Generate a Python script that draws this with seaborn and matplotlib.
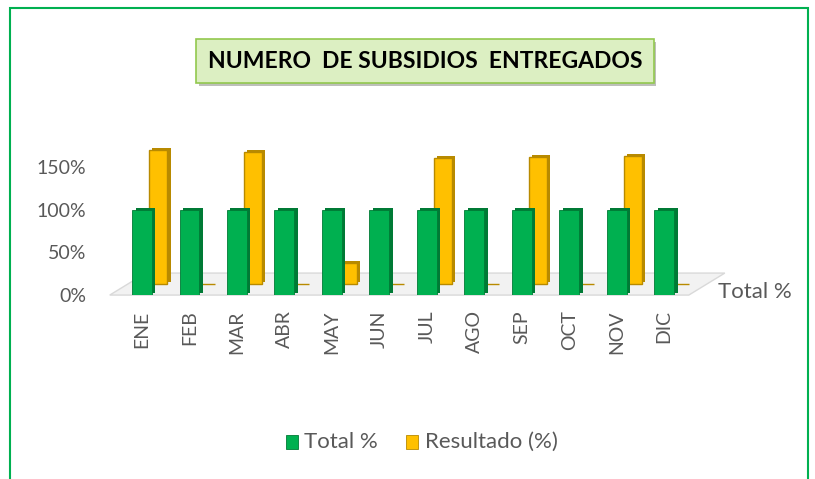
import matplotlib
matplotlib.use("Agg")
import matplotlib.pyplot as plt
import matplotlib.patheffects as pe
import matplotlib.transforms as mtransforms
from matplotlib.patches import Rectangle, Polygon
from matplotlib.ticker import PercentFormatter
import pandas as pd
import seaborn as sns

# data
meses = ["ENE", "FEB", "MAR", "ABR", "MAY", "JUN", "JUL", "AGO", "SEP", "OCT", "NOV", "DIC"]
total_pct = [1.0, 1.0, 1.0, 1.0, 1.0, 1.0, 1.0, 1.0, 1.0, 1.0, 1.0, 1.0]
resultado_pct = [1.57, 0.0, 1.55, 0.0, 0.25, 0.0, 1.48, 0.0, 1.49, 0.0, 1.50, 0.0]
y_ticks = [0, 0.5, 1.0, 1.5]

df = pd.DataFrame({"mes": meses, "Total %": total_pct, "Resultado (%)": resultado_pct})

sns.set_style("white")
plt.rcParams["font.family"] = ["Lato", "DejaVu Sans"]

GREEN, GREEN_D = "#00B050", "#007A35"
YELLOW, YELLOW_D = "#FFC000", "#B88A00"
GRAY = "#595959"

fig = plt.figure(figsize=(8.15, 4.79), dpi=100)
ax = fig.add_axes([0.1335, 0.384, 0.728, 0.3204])

# back row (Resultado) first so it sits behind
n0 = len(ax.patches)
sns.barplot(data=df, x="mes", y="Resultado (%)", order=meses, color=YELLOW,
            width=0.38, saturation=1, ax=ax, zorder=2)
shift = mtransforms.ScaledTranslation(16 / 100, 11 / 100, fig.dpi_scale_trans)
for p in ax.patches[n0:]:
    p.set_transform(ax.transData + shift)
    p.set_edgecolor(YELLOW_D)
    p.set_linewidth(1.0)
    p.set_path_effects([pe.SimplePatchShadow(offset=(2.5, 1.5), shadow_rgbFace=YELLOW_D, alpha=1), pe.Normal()])

n1 = len(ax.patches)
sns.barplot(data=df, x="mes", y="Total %", order=meses, color=GREEN,
            width=0.42, saturation=1, ax=ax, zorder=3)
for p in ax.patches[n1:]:
    p.set_edgecolor(GREEN_D)
    p.set_linewidth(0.6)
    p.set_path_effects([pe.SimplePatchShadow(offset=(2.5, 1.5), shadow_rgbFace=GREEN_D, alpha=1), pe.Normal()])

ax.set_xlim(-0.7, 11.8)
ax.set_ylim(0, 1.8)

# floor of the 3D plot, behind the axes content
depth = mtransforms.ScaledTranslation(36 / 100, 22 / 100, fig.dpi_scale_trans)
x0, x1 = -0.68, 11.52
front = ax.transData.transform([(x0, 0), (x1, 0)])
backpts = (ax.transData + depth).transform([(x1, 0), (x0, 0)])
floor = Polygon(list(front) + list(backpts), closed=True, transform=None,
                facecolor="#F2F2F2", edgecolor="#D9D9D9", linewidth=1.0, zorder=-1)
fig.patches.append(floor)

ax.set_yticks(y_ticks)
ax.yaxis.set_major_formatter(PercentFormatter(1.0, decimals=0))
ax.tick_params(axis="y", labelsize=14, colors=GRAY, length=0, pad=16)
ax.tick_params(axis="x", labelsize=14, colors=GRAY, length=0, pad=11, labelrotation=90)
ax.set_xlabel("")
ax.set_ylabel("")
sns.despine(ax=ax, left=True, bottom=True)
ax.patch.set_alpha(0)

fig.text(718 / 815, 1 - 292 / 479, "Total %", fontsize=16, color=GRAY, va="center", ha="left")

# title box
t = fig.text(425 / 815, 1 - 61 / 479, "NUMERO  DE SUBSIDIOS  ENTREGADOS", fontsize=16.5,
             fontweight="bold", color="black", ha="center", va="center",
             bbox=dict(boxstyle="square,pad=0.5", facecolor="#DCEFC2", edgecolor="#92C84E", linewidth=1.2))
t.get_bbox_patch().set_path_effects([pe.SimplePatchShadow(offset=(2, -2), alpha=0.35), pe.Normal()])

# legend
fig.patches.append(Rectangle((286 / 815, 1 - 449 / 479), 12 / 815, 14 / 479, transform=fig.transFigure,
                             facecolor=GREEN, edgecolor=GREEN_D, linewidth=0.6))
fig.text(304 / 815, 1 - 442 / 479, "Total %", fontsize=16, color=GRAY, va="center")
fig.patches.append(Rectangle((406 / 815, 1 - 449 / 479), 12 / 815, 14 / 479, transform=fig.transFigure,
                             facecolor=YELLOW, edgecolor=YELLOW_D, linewidth=0.6))
fig.text(425 / 815, 1 - 442 / 479, "Resultado (%)", fontsize=16, color=GRAY, va="center")

# outer chart border
fig.patches.append(Rectangle((10 / 815, -0.05), 798 / 815, 1.05 - 8 / 479, transform=fig.transFigure,
                             fill=False, edgecolor=GREEN, linewidth=1.5))

fig.savefig("out.png", dpi=100)
